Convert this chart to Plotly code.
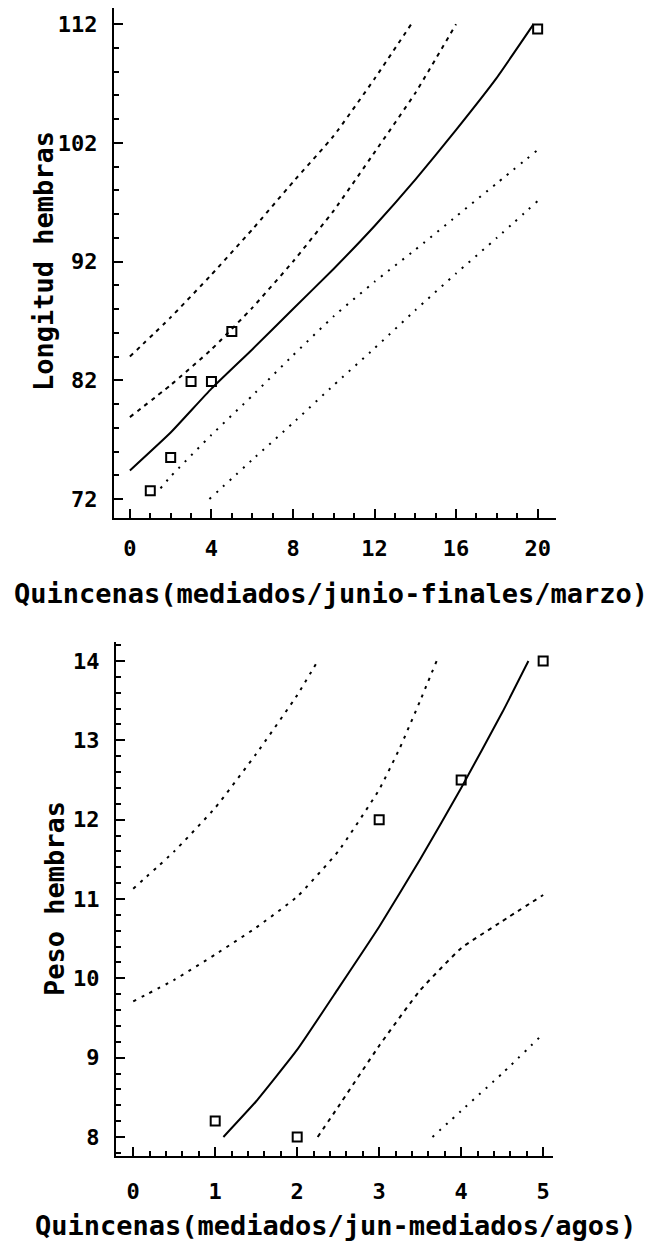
import plotly.graph_objects as go

# ---------------- Top panel: Longitud hembras ----------------
top_pts_x = [1, 2, 3, 4, 5, 20]
top_pts_y = [72.7, 75.5, 81.9, 81.9, 86.1, 111.6]

top_fit_x = [0, 2, 4, 6, 8, 10, 12, 14, 16, 18, 19.8]
top_fit_y = [74.4, 77.6, 81.3, 84.6, 88.0, 91.4, 95.0, 98.9, 103.1, 107.5, 112.0]

top_up_out_x = [0, 2, 4, 6, 8, 10, 12, 13.8]
top_up_out_y = [84.0, 87.3, 90.9, 94.7, 98.7, 102.6, 107.4, 112.0]

top_up_in_x = [0, 2, 4, 6, 8, 10, 12, 14, 16]
top_up_in_y = [78.9, 81.6, 84.6, 88.1, 92.0, 96.3, 101.2, 106.2, 112.0]

top_lo_in_x = [1.5, 2, 4, 6, 8, 10, 12, 14, 16, 18, 20]
top_lo_in_y = [72.9, 73.9, 77.4, 80.7, 84.1, 87.4, 90.3, 93.0, 95.8, 98.6, 101.4]

top_lo_out_x = [3.9, 6, 8, 10, 12, 14, 16, 18, 20]
top_lo_out_y = [72.0, 75.3, 78.4, 81.6, 84.7, 87.9, 91.0, 94.0, 97.1]

top_xticks = [0, 4, 8, 12, 16, 20]
top_yticks = [72, 82, 92, 102, 112]
top_xtitle = "Quincenas(mediados/junio-finales/marzo)"
top_ytitle = "Longitud hembras"

# ---------------- Bottom panel: Peso hembras ----------------
bot_pts_x = [1, 2, 3, 4, 5]
bot_pts_y = [8.2, 8.0, 12.0, 12.5, 14.0]

bot_fit_x = [1.1, 1.5, 2.0, 2.5, 3.0, 3.5, 4.0, 4.5, 4.82]
bot_fit_y = [8.0, 8.45, 9.1, 9.87, 10.65, 11.5, 12.4, 13.35, 14.0]

bot_up_out_x = [0, 0.5, 1.0, 1.5, 2.0, 2.25]
bot_up_out_y = [11.13, 11.6, 12.15, 12.83, 13.57, 14.0]

bot_up_in_x = [0, 0.5, 1.0, 1.5, 2.0, 2.5, 3.0, 3.25, 3.5, 3.7]
bot_up_in_y = [9.71, 9.98, 10.3, 10.64, 11.03, 11.6, 12.38, 12.9, 13.5, 14.0]

bot_lo_in_x = [2.25, 2.5, 3.0, 3.5, 4.0, 4.5, 5.0]
bot_lo_in_y = [8.0, 8.38, 9.15, 9.85, 10.38, 10.72, 11.05]

bot_lo_out_x = [3.65, 4.0, 4.5, 5.0]
bot_lo_out_y = [8.0, 8.33, 8.8, 9.3]

bot_xticks = [0, 1, 2, 3, 4, 5]
bot_yticks = [8, 9, 10, 11, 12, 13, 14]
bot_xtitle = "Quincenas(mediados/jun-mediados/agos)"
bot_ytitle = "Peso hembras"

W, H = 660, 1246
OFF = 8  # default page body margin
FONT = "DejaVu Sans Mono"
BLACK = "#000000"


def px(v):
    return min(max((v - OFF) / W, 0), 1)


def py(v):
    return min(max(1 - (v - OFF) / H, 0), 1)


fig = go.Figure()


def add_line(x, y, dash, xa, ya, width=2):
    fig.add_trace(go.Scatter(
        x=x, y=y, mode="lines", xaxis=xa, yaxis=ya,
        line=dict(color=BLACK, width=width, dash=dash, shape="spline", smoothing=0.4),
        hoverinfo="skip", showlegend=False))


def add_pts(x, y, xa, ya):
    fig.add_trace(go.Scatter(
        x=x, y=y, mode="markers", xaxis=xa, yaxis=ya,
        marker=dict(symbol="square-open", size=9, color=BLACK, line=dict(width=2, color=BLACK)),
        showlegend=False))


# top
add_line(top_up_out_x, top_up_out_y, "4px,5px", "x", "y")
add_line(top_up_in_x, top_up_in_y, "4px,5px", "x", "y")
add_line(top_lo_in_x, top_lo_in_y, "2px,7px", "x", "y")
add_line(top_lo_out_x, top_lo_out_y, "2px,7px", "x", "y")
add_line(top_fit_x, top_fit_y, "solid", "x", "y")
add_pts(top_pts_x, top_pts_y, "x", "y")

# bottom
add_line(bot_up_out_x, bot_up_out_y, "3px,6px", "x2", "y2")
add_line(bot_up_in_x, bot_up_in_y, "3px,6px", "x2", "y2")
add_line(bot_lo_in_x, bot_lo_in_y, "4px,5px", "x2", "y2")
add_line(bot_lo_out_x, bot_lo_out_y, "2px,7px", "x2", "y2")
add_line(bot_fit_x, bot_fit_y, "solid", "x2", "y2")
add_pts(bot_pts_x, bot_pts_y, "x2", "y2")

tickfont = dict(family=FONT, size=22, color=BLACK, weight="bold")
titlefont = dict(family=FONT, size=27, color=BLACK, weight="bold")


def axis(domain, rng, ticks, minor, anchor, standoff):
    return dict(domain=domain, range=rng, anchor=anchor, tickvals=ticks,
                ticktext=[str(t) for t in ticks],
                showline=True, linecolor=BLACK, linewidth=2, mirror=False,
                showgrid=False, zeroline=False,
                ticks="inside", ticklen=9, tickwidth=2, tickcolor=BLACK,
                minor=dict(dtick=minor, ticks="inside", ticklen=5, tickwidth=1.5,
                           tickcolor=BLACK, showgrid=False),
                tickfont=tickfont, ticklabelstandoff=standoff, fixedrange=True)


fig.update_layout(
    width=W, height=H,
    margin=dict(l=0, r=0, t=0, b=0),
    paper_bgcolor="white", plot_bgcolor="white",
    showlegend=False,
    xaxis=axis([px(114), px(556)], [-0.78, 20.9], top_xticks, 1, "y", 10),
    yaxis=axis([py(518), py(8)], [70.4, 113.36], top_yticks, 2, "x", 10),
    xaxis2=axis([px(116), px(553)], [-0.21, 5.12], bot_xticks, 0.2, "y2", 15),
    yaxis2=axis([py(1156), py(642)], [7.76, 14.24], bot_yticks, 0.2, "x2", 10),
)

annots = [
    dict(text=top_xtitle, x=px(331), y=py(593), textangle=0),
    dict(text=top_ytitle, x=px(44), y=py(261), textangle=-90),
    dict(text=bot_xtitle, x=px(335), y=py(1225), textangle=0),
    dict(text=bot_ytitle, x=px(54), y=py(899), textangle=-90),
]
for a in annots:
    fig.add_annotation(xref="paper", yref="paper", xanchor="center", yanchor="middle",
                       showarrow=False, font=titlefont, **a)

fig.write_html("out.html")
